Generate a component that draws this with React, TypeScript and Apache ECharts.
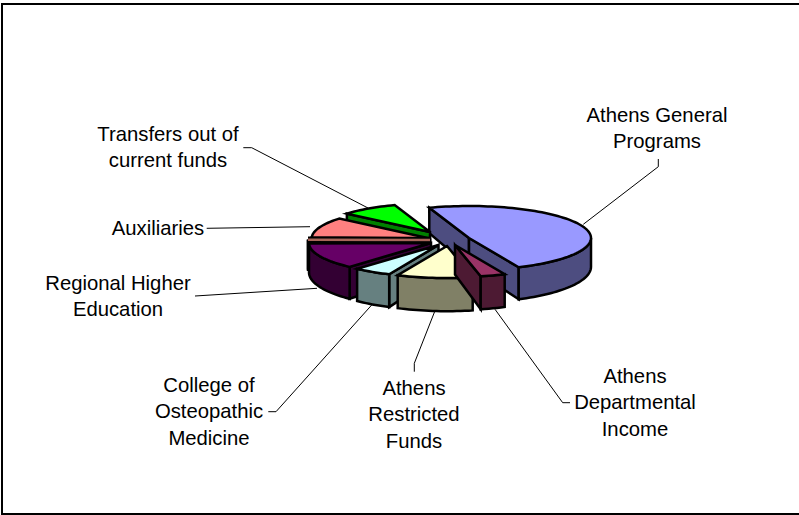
import React, { useEffect, useRef } from "react";
import * as echarts from "echarts";

const categories = [
  "Athens General\nPrograms",
  "Athens\nDepartmental\nIncome",
  "Athens\nRestricted\nFunds",
  "College of\nOsteopathic\nMedicine",
  "Regional Higher\nEducation",
  "",
  "Auxiliaries",
  "Transfers out of\ncurrent funds",
];
const shares = [48.6, 3.3, 10, 5, 13.1, 0.8, 10.6, 8.6];

const topColors = ["#9999FF", "#993366", "#FFFFCC", "#CCFFFF", "#660066", "#A8665A", "#FF8080", "#00FF00"];
const sideColors = ["#4D4D80", "#4D1A33", "#808066", "#668080", "#330033", "#804040", "#804040", "#008000"];
const apexes = [[469, 238], [455, 245], [447, 246], [438.5, 245], [431, 243], [430, 240], [430, 238.5], [430, 232]];
const radiusScale = [1, 1, 1, 1, 1, 1, 0.97, 0.89];
const labelCentres = [[657, 115], [635, 376], [414, 388], [209, 385], [118, 283], [0, 0], [158, 228], [168, 134]];
const leaders = [
  [[658.3, 159], [658.3, 166.7], [583.3, 224.3]],
  [[570, 402.7], [562.7, 402.7], [495, 309.3]],
  [[414.3, 371.7], [414.3, 363.3], [435, 310.7]],
  [[268.3, 411.7], [276, 411.7], [371.7, 305]],
  [[195, 296], [317, 288.3]],
  [[206.7, 228.3], [310, 226.7]],
  [[243.3, 147.7], [251.7, 147.7], [368, 208]],
];
const drawOrder = [0, 7, 6, 5, 4, 3, 2, 1];
const START_DEG = -109;
const RX = 122;
const RY = 32;
const LINE_H = 26.3;
const STROKE = 2.5;
const THIN_DEG = 5;
const FONT = "'Liberation Sans', Arial, sans-serif";

const depthAt = (y: number) => 25.5 + (y - 208) * 0.11;
const drop = (p: number[]) => [p[0], p[1] + depthAt(p[1])];
const cosDeg = (d: number) => Math.cos((d * Math.PI) / 180);

const total = shares.reduce((a, b) => a + b, 0);
const spans = shares.map((_, i) => {
  const before = shares.slice(0, i).reduce((a, b) => a + b, 0);
  return [START_DEG + (before / total) * 360, START_DEG + ((before + shares[i]) / total) * 360];
});

function arcPoints(c: number[], a0: number, a1: number, s: number) {
  const n = Math.max(2, Math.ceil(Math.abs(a1 - a0) / 2));
  const pts: number[][] = [];
  for (let k = 0; k <= n; k++) {
    const t = ((a0 + ((a1 - a0) * k) / n) * Math.PI) / 180;
    pts.push([c[0] + RX * s * Math.cos(t), c[1] + RY * s * Math.sin(t)]);
  }
  return pts;
}

function poly(points: number[][], fill: string) {
  return {
    type: "polygon",
    shape: { points },
    style: { fill, stroke: "#000", lineWidth: STROKE, lineJoin: "miter" },
  };
}

function renderSlice(_: any, api: any) {
  const i = api.value(1) as number;
  const [a0, a1] = spans[i];
  const c = apexes[i];
  const s = radiusScale[i];
  const arc = arcPoints(c, a0, a1, s);
  const side = sideColors[i];
  const first = arc[0];
  const last = arc[arc.length - 1];
  const children: any[] = [];
  // Only the cut faces that turn towards the viewer are drawn.
  if (cosDeg(a0) < 0) children.push(poly([first, c, drop(c), drop(first)], side));
  if (cosDeg(a1) > 0) children.push(poly([c, last, drop(last), drop(c)], side));
  const f0 = Math.max(a0, 0);
  const f1 = Math.min(a1, 180);
  if (f1 > f0) {
    const outer = arcPoints(c, f0, f1, s);
    children.push(poly([...outer, ...outer.map(drop).reverse()], side));
  }
  if (a1 - a0 < THIN_DEG) {
    // A sliver is narrower than its outlines: draw it as a band, so its fill stays visible.
    const mid = arcPoints(c, (a0 + a1) / 2, (a0 + a1) / 2, s)[0];
    const band = { x1: c[0], y1: c[1], x2: mid[0], y2: mid[1] };
    children.push({ type: "line", shape: band, style: { stroke: "#000", lineWidth: 6.5 } });
    children.push({ type: "line", shape: band, style: { stroke: topColors[i], lineWidth: 2.5 } });
  } else {
    children.push(poly([c, ...arc], topColors[i]));
  }
  return { type: "group", children };
}

function renderLabel(_: any, api: any) {
  const i = api.value(1) as number;
  const lines = categories[i].split("\n");
  const [x, y] = labelCentres[i];
  return {
    type: "group",
    children: lines.map((line, k) => ({
      type: "text",
      style: {
        x,
        y: y + k * LINE_H,
        text: line,
        fill: "#000",
        font: `20.3px ${FONT}`,
        align: "center",
        verticalAlign: "middle",
      },
    })),
  };
}

export default function App() {
  const ref = useRef<HTMLDivElement>(null);
  useEffect(() => {
    document.body.style.margin = "0";
    const chart = echarts.init(ref.current!, undefined, { renderer: "svg" });
    chart.setOption({
      animation: false,
      backgroundColor: "#fff",
      graphic: [
        {
          type: "rect",
          z: 0,
          silent: true,
          shape: { x: 2, y: 4, width: 810, height: 510 },
          style: { fill: "none", stroke: "#000", lineWidth: 2 },
        },
        ...leaders.map((points) => ({
          type: "polyline",
          z: 1,
          silent: true,
          shape: { points },
          style: { fill: "none", stroke: "#000", lineWidth: 1 },
        })),
      ],
      series: [
        {
          type: "custom",
          coordinateSystem: "none",
          silent: true,
          z: 3,
          renderItem: renderSlice,
          data: drawOrder.map((i) => [shares[i], i]),
        },
        {
          type: "custom",
          coordinateSystem: "none",
          silent: true,
          z: 4,
          renderItem: renderLabel,
          data: shares.map((v, i) => [v, i]).filter(([, i]) => categories[i] !== ""),
        },
      ],
    });
    return () => chart.dispose();
  }, []);
  return <div ref={ref} style={{ width: 799, height: 515 }} />;
}
